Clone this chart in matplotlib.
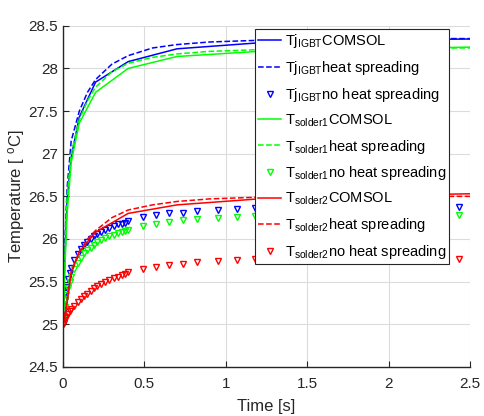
import matplotlib.pyplot as plt

plt.rcParams['font.family'] = ['Liberation Sans', 'DejaVu Sans']
plt.rcParams['mathtext.fontset'] = 'custom'
plt.rcParams['mathtext.rm'] = 'Liberation Sans'
plt.rcParams['mathtext.it'] = 'Liberation Sans'

# COMSOL reference curves
t_comsol = [0, 0.01, 0.025, 0.05, 0.1, 0.2, 0.4, 0.7, 1.2, 1.7, 2.2, 2.5]
igbt_comsol = [25.0, 25.7, 26.45, 26.96, 27.43, 27.84, 28.08, 28.23, 28.30, 28.33, 28.34, 28.345]
solder1_comsol = [25.0, 25.6, 26.3, 26.9, 27.36, 27.72, 28.0, 28.14, 28.2, 28.23, 28.24, 28.25]
solder2_comsol = [25.0, 25.08, 25.25, 25.62, 25.85, 26.08, 26.3, 26.40, 26.47, 26.5, 26.52, 26.53]

# heat spreading model
t_hs = [0, 0.01, 0.025, 0.05, 0.1, 0.15, 0.2, 0.3, 0.4, 0.55, 0.7, 0.9, 1.2, 1.6, 2.0, 2.5]
igbt_hs = [25.0, 25.9, 26.6, 27.15, 27.5, 27.72, 27.87, 28.05, 28.15, 28.24, 28.28, 28.31, 28.33, 28.34, 28.35, 28.35]
solder1_hs = [25.0, 25.8, 26.5, 27.0, 27.4, 27.62, 27.78, 27.96, 28.06, 28.13, 28.17, 28.2, 28.22, 28.23, 28.24, 28.24]
solder2_hs = [25.0, 25.1, 25.3, 25.6, 25.85, 26.0, 26.1, 26.25, 26.34, 26.4, 26.44, 26.47, 26.49, 26.5, 26.5, 26.5]

# no heat spreading model
t_nhs = [0, 0.005, 0.01, 0.015, 0.02, 0.03, 0.04, 0.05, 0.07, 0.09, 0.11, 0.13, 0.15,
         0.17, 0.19, 0.21, 0.235, 0.26, 0.285, 0.31, 0.335, 0.36, 0.38, 0.40, 0.49,
         0.57, 0.65, 0.74, 0.82, 0.95, 1.07, 1.18, 1.30, 1.43, 1.63, 1.83, 2.03, 2.23, 2.43]
igbt_nhs = [25.0, 25.15, 25.28, 25.37, 25.44, 25.53, 25.6, 25.66, 25.75, 25.82, 25.88, 25.93, 25.97,
            26.0, 26.03, 26.06, 26.08, 26.11, 26.13, 26.15, 26.17, 26.18, 26.19, 26.21, 26.26,
            26.28, 26.3, 26.31, 26.33, 26.34, 26.35, 26.36, 26.36, 26.37, 26.37, 26.37, 26.37, 26.37, 26.37]
solder1_nhs = [25.0, 25.1, 25.2, 25.28, 25.34, 25.43, 25.5, 25.56, 25.65, 25.72, 25.78, 25.83, 25.87,
               25.9, 25.93, 25.96, 25.99, 26.01, 26.03, 26.05, 26.07, 26.08, 26.09, 26.11, 26.15,
               26.18, 26.2, 26.22, 26.23, 26.25, 26.26, 26.27, 26.27, 26.28, 26.28, 26.28, 26.28, 26.28, 26.28]
solder2_nhs = [25.0, 25.02, 25.05, 25.07, 25.09, 25.12, 25.15, 25.18, 25.22, 25.26, 25.3, 25.33, 25.36,
               25.39, 25.42, 25.45, 25.47, 25.5, 25.52, 25.54, 25.56, 25.58, 25.59, 25.61, 25.65,
               25.67, 25.69, 25.71, 25.73, 25.74, 25.75, 25.76, 25.76, 25.76, 25.76, 25.76, 25.76, 25.76, 25.76]

fig = plt.figure(figsize=(4.85, 4.16), dpi=100)
ax = fig.add_axes([0.130, 0.118, 0.839, 0.820])

lw = 1.1
ms = 5
series = [
    ('Tj$_{\\rm IGBT}$', 'blue', igbt_comsol, igbt_hs, igbt_nhs),
    ('T$_{\\rm solder1}$', 'lime', solder1_comsol, solder1_hs, solder1_nhs),
    ('T$_{\\rm solder2}$', 'red', solder2_comsol, solder2_hs, solder2_nhs),
]
for name, col, yc, yh, yn in series:
    ax.plot(t_comsol, yc, '-', color=col, lw=lw, label=name + 'COMSOL')
    ax.plot(t_hs, yh, '--', color=col, lw=lw, label=name + 'heat spreading')
    ax.plot(t_nhs, yn, 'v', color=col, mfc='none', ms=ms, mew=1.0,
            label=name + 'no heat spreading')

ax.set_xlim(0, 2.5)
ax.set_ylim(24.5, 28.5)
ax.set_xticks([0, 0.5, 1, 1.5, 2, 2.5])
ax.set_xticklabels(['0', '0.5', '1', '1.5', '2', '2.5'])
ax.set_yticks([24.5, 25, 25.5, 26, 26.5, 27, 27.5, 28, 28.5])
ax.set_yticklabels(['24.5', '25', '25.5', '26', '26.5', '27', '27.5', '28', '28.5'])
ax.grid(True, color='#dcdcdc', lw=0.8)
ax.set_axisbelow(True)
for s in ['top', 'right']:
    ax.spines[s].set_visible(False)
for s in ['left', 'bottom']:
    ax.spines[s].set_color('#262626')
    ax.spines[s].set_linewidth(1.0)
ax.tick_params(direction='in', length=4, colors='#262626', labelsize=11)
ax.tick_params(axis='x', pad=7)
ax.set_xlabel('Time [s]', fontsize=12, color='#262626', labelpad=6)
ax.set_ylabel('Temperature [ $^{\\rm o}$C]', fontsize=12, color='#262626', labelpad=1)

leg = ax.legend(loc='upper left', bbox_to_anchor=(0.472, 0.99), fontsize=10.5,
                frameon=True, fancybox=False, framealpha=1, edgecolor='#262626',
                handlelength=1.6, handletextpad=0.25, borderpad=0.2,
                labelspacing=0.6, borderaxespad=0)
leg.get_frame().set_linewidth(0.8)

fig.savefig('out.png', dpi=100)
